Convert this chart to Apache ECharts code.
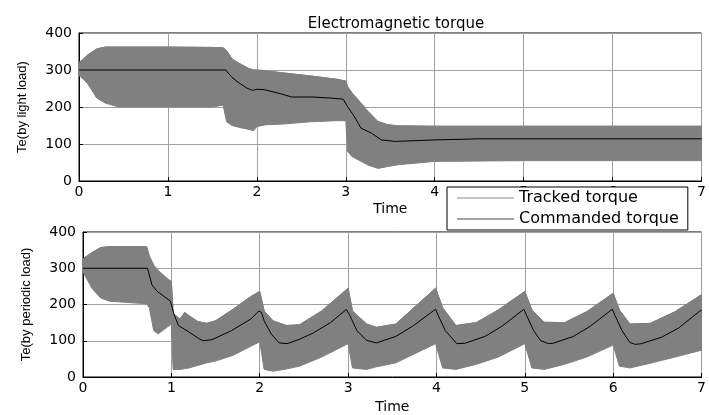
<!DOCTYPE html>
<html>
<head>
<meta charset="utf-8">
<script src="https://cdn.jsdelivr.net/npm/echarts@6/dist/echarts.min.js"></script>
<style>
  html, body { margin: 0; padding: 0; background: #fff; }
  #chart { width: 709px; height: 415px; }
</style>
</head>
<body>
<div id="chart"></div>
<script>
// top plot (light load): commanded torque
const cmdTopX = [0, 1.65, 1.72, 1.80, 1.88, 1.95, 2.0, 2.08, 2.28, 2.39, 2.62, 2.84, 2.97, 3.02, 3.08, 3.14, 3.17, 3.29, 3.4, 3.55, 3.78, 4.0, 4.5, 5.0, 7.0]
const cmdTopY = [300, 300, 280, 265, 252, 245, 248, 247, 235, 227, 227, 224, 221, 201, 180, 156, 143, 129, 111, 107, 109, 111, 114, 114, 114]

// top plot: envelope of the tracked torque ripple
const bandTopX = [0, 0.05, 0.1, 0.2, 0.3, 0.45, 1.0, 1.5, 1.62, 1.66, 1.72, 1.8, 1.9, 1.96, 2.0, 2.1, 2.3, 2.6, 2.9, 3.0, 3.02, 3.07, 3.14, 3.25, 3.36, 3.47, 3.59, 4.0, 5.0, 6.0, 7.0]
const bandTopHigh = [320, 330, 341, 357, 362, 362, 362, 361, 360, 352, 330, 318, 305, 300, 300, 298, 292, 284, 275, 270, 255, 238, 219, 188, 161, 152, 149, 148, 148, 148, 148]
const bandTopLow = [285, 275, 262, 224, 210, 200, 200, 200, 205, 160, 150, 145, 140, 136, 147, 152, 154, 160, 163, 163, 80, 66, 57, 43, 34, 39, 44, 53, 55, 55, 55]

// bottom plot (periodic load): commanded torque
const cmdBotX = [0, 0.73, 0.78, 0.84, 0.93, 0.99, 1.03, 1.08, 1.2, 1.31, 1.36, 1.46, 1.68, 1.9, 1.99,
  2.02, 2.05, 2.13, 2.22, 2.31, 2.45, 2.61, 2.8, 2.98,
  3.02, 3.1, 3.21, 3.32, 3.54, 3.73, 3.99,
  4.02, 4.1, 4.23, 4.32, 4.55, 4.74, 4.99,
  5.02, 5.1, 5.18, 5.27, 5.32, 5.55, 5.74, 5.99,
  6.02, 6.1, 6.19, 6.25, 6.32, 6.55, 6.74, 6.98, 7.0]
const cmdBotY = [300, 300, 254, 236, 220, 209, 173, 142, 124, 106, 100, 103, 128, 160, 182,
  178, 155, 119, 94, 92, 104, 122, 150, 186,
  170, 128, 101, 94, 112, 140, 187,
  170, 128, 92, 93, 112, 140, 187,
  170, 128, 100, 92, 93, 112, 140, 187,
  170, 128, 95, 90, 92, 110, 135, 182, 183]

// bottom plot: envelope of the tracked torque ripple
const bandBotX = [0, 0.1, 0.2, 0.3, 0.72, 0.75, 0.8, 0.85, 0.95, 1.0, 1.02, 1.1, 1.15, 1.2, 1.3, 1.4, 1.5, 1.7, 1.9, 2.0,
  2.05, 2.15, 2.3, 2.45, 2.7, 3.0, 3.05, 3.21, 3.32, 3.54, 3.99, 4.07, 4.22, 4.45, 4.7, 5.0,
  5.08, 5.22, 5.45, 5.7, 6.0, 6.07, 6.19, 6.42, 6.7, 7.0]
const bandBotHigh = [326, 343, 357, 360, 360, 334, 308, 294, 272, 263, 175, 160, 178, 169, 153, 148, 155, 187, 222, 236,
  182, 155, 142, 144, 182, 245, 182, 146, 137, 146, 245, 191, 142, 150, 185, 236,
  185, 151, 150, 180, 231, 185, 146, 148, 180, 227]
const bandBotLow = [290, 245, 218, 209, 202, 191, 128, 119, 137, 146, 21, 21, 23, 25, 32, 39, 44, 60, 85, 97,
  21, 16, 22, 30, 55, 92, 25, 21, 28, 39, 92, 25, 21, 35, 55, 92,
  25, 21, 35, 55, 88, 30, 25, 38, 55, 74]

const xTicks = [0, 1, 2, 3, 4, 5, 6, 7]
const yTicks = [0, 100, 200, 300, 400]

const FONT = 'DejaVu Sans'
const BAND = '#808080'

function pairs(xs, ys) {
  return xs.map((x, i) => [x, ys[i]])
}

function xAxisFor(idx, gap) {
  return {
    type: 'value', gridIndex: idx,
    min: xTicks[0], max: xTicks[xTicks.length - 1], interval: 1,
    name: 'Time', nameLocation: 'middle', nameGap: gap,
    nameTextStyle: { fontFamily: FONT, fontSize: 14, color: '#000' },
    axisLine: { lineStyle: { color: '#000', width: 1 } },
    axisTick: { inside: true, length: 4, lineStyle: { color: '#000' } },
    axisLabel: { fontFamily: FONT, fontSize: 14, color: '#000', margin: 4 },
    splitLine: { show: true, lineStyle: { color: '#a0a0a0', width: 1 } }
  }
}
function yAxisFor(idx, label) {
  return {
    type: 'value', gridIndex: idx,
    min: yTicks[0], max: yTicks[yTicks.length - 1], interval: 100,
    name: label, nameLocation: 'middle', nameGap: 50,
    nameTextStyle: { fontFamily: 'Liberation Sans', fontSize: 13, color: '#000' },
    axisLine: { show: true, lineStyle: { color: '#000', width: 1 } },
    axisTick: { show: true, inside: true, length: 4, lineStyle: { color: '#000' } },
    axisLabel: { fontFamily: FONT, fontSize: 14, color: '#000', margin: 7 },
    splitLine: { show: true, lineStyle: { color: '#a0a0a0', width: 1 } }
  }
}

// tracked torque: upper edge as a line (also gives the legend icon),
// the ripple band between the envelopes as one polygon
function trackedSeries(idx, xs, hi, lo) {
  return [
    {
      name: 'Tracked torque', type: 'line', xAxisIndex: idx, yAxisIndex: idx,
      symbol: 'none',
      lineStyle: { color: BAND, width: 1 },
      itemStyle: { color: BAND },
      data: pairs(xs, hi)
    },
    {
      name: 'Tracked torque', type: 'custom', xAxisIndex: idx, yAxisIndex: idx,
      clip: true,
      itemStyle: { color: BAND },
      encode: { x: 0, y: [1, 2] },
      data: xs.map((x, i) => [x, hi[i], lo[i]]),
      renderItem: function (params, api) {
        if (params.dataIndex !== 0) return null
        const pts = []
        for (let i = 0; i < xs.length; i++) pts.push(api.coord([xs[i], hi[i]]))
        for (let i = xs.length - 1; i >= 0; i--) pts.push(api.coord([xs[i], lo[i]]))
        return {
          type: 'polygon',
          shape: { points: pts },
          style: { fill: BAND, stroke: BAND, lineWidth: 1 }
        }
      }
    }
  ]
}

function cmdSeries(idx, xs, ys) {
  return {
    name: 'Commanded torque', type: 'line', xAxisIndex: idx, yAxisIndex: idx,
    symbol: 'none',
    lineStyle: { color: '#000', width: 1 },
    itemStyle: { color: '#000' },
    z: 5,
    data: pairs(xs, ys)
  }
}

const chart = echarts.init(document.getElementById('chart'), null, { renderer: 'canvas' })

chart.setOption({
  animation: false,
  backgroundColor: '#fff',
  title: {
    text: 'Electromagnetic torque',
    left: 391, top: 12, textAlign: 'center',
    textStyle: { fontFamily: FONT, fontSize: 15, fontWeight: 'normal', color: '#000' }
  },
  legend: {
    data: [
      { name: 'Tracked torque', itemStyle: { color: '#888' } },
      { name: 'Commanded torque', itemStyle: { color: '#444' } }
    ],
    orient: 'vertical',
    left: 447, top: 187,
    padding: [3, 9, 3, 10],
    icon: 'rect',
    itemWidth: 57, itemHeight: 1, itemGap: 5,
    backgroundColor: '#fff',
    borderColor: '#000', borderWidth: 1, borderRadius: 0,
    textStyle: { fontFamily: FONT, fontSize: 16, color: '#000' },
    selectedMode: false,
    z: 10
  },
  grid: [
    { left: 79, top: 33, width: 625, height: 148, show: true, borderColor: '#000', borderWidth: 1 },
    { left: 83, top: 232, width: 626, height: 149, show: true, borderColor: '#000', borderWidth: 1 }
  ],
  xAxis: [xAxisFor(0, 21), xAxisFor(1, 23)],
  yAxis: [yAxisFor(0, 'Te(by light load)'), yAxisFor(1, 'Te(by periodic load)')],
  series: [
    ...trackedSeries(0, bandTopX, bandTopHigh, bandTopLow),
    cmdSeries(0, cmdTopX, cmdTopY),
    ...trackedSeries(1, bandBotX, bandBotHigh, bandBotLow),
    cmdSeries(1, cmdBotX, cmdBotY)
  ]
})
</script>
</body>
</html>
